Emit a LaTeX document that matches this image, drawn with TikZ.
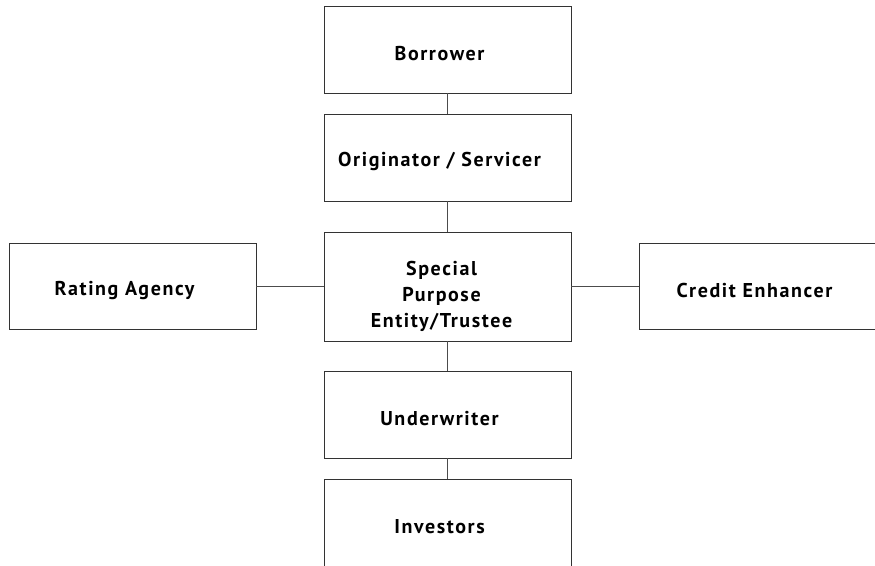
\documentclass[tikz,border=0pt]{standalone}
\usepackage{fontspec}
\setmainfont{PT Sans}[LetterSpace=8]
\begin{document}
\begin{tikzpicture}[x=1pt,y=-1pt,
  box/.style={draw=black!80, line width=0.9pt, minimum width=247pt, minimum height=87pt, inner sep=0pt},
  lbl/.style={font=\bfseries\fontsize{20}{26}\selectfont, align=center, xshift=-8pt, yshift=-4pt},
  conn/.style={draw=black!70, line width=0.9pt}]
\useasboundingbox (0,0) rectangle (875,565);
\clip (0,0) rectangle (875,565);
\node[box] (bor) at (447.5,49.5) {};
\node[box] (org) at (447.5,157.5) {};
\node[box, minimum height=109pt] (spe) at (447.5,286.5) {};
\node[box] (und) at (447.5,414.5) {};
\node[box] (inv) at (447.5,523) {};
\node[box, minimum height=86pt] (rat) at (132.5,286.5) {};
\node[box, minimum height=86pt] (cre) at (762.5,286.5) {};
\node[lbl] (borT) at (bor.center) {Borrower};
\node[lbl] (orgT) at (org.center) {Originator / Servicer};
\node[lbl, xshift=2pt, yshift=-6pt] (speT) at (spe.center) {Special\\Purpose\\Entity/Trustee};
\node[lbl] (undT) at (und.center) {Underwriter};
\node[lbl] (invT) at (inv.center) {Investors};
\node[lbl] (ratT) at (rat.center) {Rating Agency};
\node[lbl] (creT) at (cre.center) {Credit Enhancer};
\draw[conn] (bor.south) -- (org.north);
\draw[conn] (org.south) -- (spe.north);
\draw[conn] (spe.south) -- (und.north);
\draw[conn] (und.south) -- (inv.north);
\draw[conn] (rat.east) -- (spe.west |- rat.east);
\draw[conn] (spe.east |- cre.west) -- (cre.west);
\end{tikzpicture}
\end{document}
